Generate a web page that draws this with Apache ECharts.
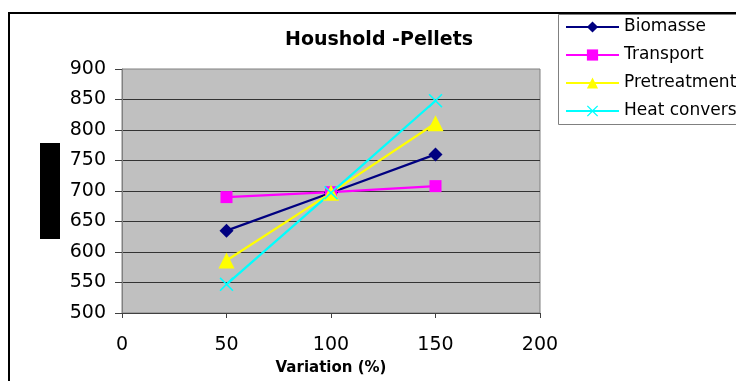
<!DOCTYPE html>
<html>
<head>
<meta charset="utf-8">
<title>Houshold -Pellets</title>
<script src="https://cdn.jsdelivr.net/npm/echarts@6/dist/echarts.min.js"></script>
<style>
  html, body { margin: 0; padding: 0; background: #ffffff; }
  #chart { width: 736px; height: 381px; }
</style>
</head>
<body>
<div id="chart"></div>
<script>
// Variation steps (%) on the x axis
const variation = [50, 100, 150];

// Result per varied parameter
const biomasse     = [635, 697, 760];
const transport    = [690, 698, 708];
const pretreatment = [586, 697, 811];
const heatConvers  = [547, 697, 848];

const seriesNames = ['Biomasse', 'Transport', 'Pretreatment', 'Heat convers.'];
const seriesData  = [biomasse, transport, pretreatment, heatConvers];

// Axis ranges
const xMin = 0, xMax = 200, xStep = 50;
const yMin = 500, yMax = 900, yStep = 50;

const FONT = '"DejaVu Sans", "Liberation Sans", Arial, sans-serif';

// Thick "x" cross used as a filled marker
const crossPath = 'path://M0,0.8L0.8,0L5,4.2L9.2,0L10,0.8L5.8,5L10,9.2L9.2,10L5,5.8L0.8,10L0,9.2L4.2,5Z';

const styles = [
  { color: '#000080', symbol: 'diamond',  size: 14 },
  { color: '#FF00FF', symbol: 'rect',     size: 12 },
  { color: '#FFFF00', symbol: 'triangle', size: 16 },
  { color: '#00FFFF', symbol: crossPath,  size: 14 }
];

const series = seriesNames.map((name, i) => ({
  name: name,
  type: 'line',
  data: variation.map((x, j) => [x, seriesData[i][j]]),
  symbol: styles[i].symbol,
  symbolSize: styles[i].size,
  showAllSymbol: true,
  lineStyle: { color: styles[i].color, width: 2.2 },
  itemStyle: { color: styles[i].color, borderWidth: 0 },
  emphasis: { disabled: true },
  animation: false
}));

const chart = echarts.init(document.getElementById('chart'), null, { renderer: 'canvas' });

chart.setOption({
  backgroundColor: '#ffffff',
  animation: false,
  title: {
    text: 'Houshold -Pellets',
    left: 285,
    top: 31,
    padding: 0,
    textStyle: { fontFamily: FONT, fontSize: 19, fontWeight: 'bold', color: '#000000' }
  },
  legend: {
    orient: 'vertical',
    left: 565,
    top: 18,
    padding: 0,
    itemGap: 10,
    itemWidth: 53,
    itemHeight: 14,
    selectedMode: false,
    data: seriesNames,
    lineStyle: { width: 2 },
    textStyle: { fontFamily: FONT, fontSize: 17, lineHeight: 18, color: '#000000' }
  },
  grid: {
    left: 122,
    right: 196,
    top: 69,
    bottom: 67,
    show: true,
    backgroundColor: '#C0C0C0',
    borderColor: '#808080',
    borderWidth: 1
  },
  xAxis: {
    type: 'value',
    min: xMin,
    max: xMax,
    interval: xStep,
    name: 'Variation (%)',
    nameLocation: 'middle',
    nameGap: 48,
    nameTextStyle: { fontFamily: FONT, fontSize: 15, fontWeight: 'bold', color: '#000000' },
    axisLine: { show: true, onZero: false, lineStyle: { color: '#404040', width: 1 } },
    axisTick: { show: true, inside: false, length: 5, lineStyle: { color: '#404040' } },
    axisLabel: { margin: 23, fontFamily: FONT, fontSize: 19, color: '#000000' },
    splitLine: { show: false }
  },
  yAxis: {
    type: 'value',
    min: yMin,
    max: yMax,
    interval: yStep,
    axisLine: { show: true, lineStyle: { color: '#808080', width: 1 } },
    axisTick: { show: true, inside: false, length: 7, lineStyle: { color: '#404040' } },
    axisLabel: { margin: 16, fontFamily: FONT, fontSize: 19, color: '#000000' },
    splitLine: { show: true, showMinLine: false, showMaxLine: false, lineStyle: { color: '#333333', width: 1 } }
  },
  graphic: [
    // outer frame (left and top edges)
    { type: 'line', z: 100, shape: { x1: 9, y1: 12, x2: 9, y2: 381 }, style: { stroke: '#000000', lineWidth: 2 } },
    { type: 'line', z: 100, shape: { x1: 8, y1: 13, x2: 736, y2: 13 }, style: { stroke: '#000000', lineWidth: 2 } },
    // legend box
    { type: 'rect', z: -1, shape: { x: 558.5, y: 14.5, width: 200, height: 110 }, style: { fill: '#ffffff', stroke: '#808080', lineWidth: 1 } },
    // filled block left of the value axis
    { type: 'rect', shape: { x: 40, y: 143, width: 20, height: 96 }, style: { fill: '#000000' } }
  ],
  series: series
});
</script>
</body>
</html>
